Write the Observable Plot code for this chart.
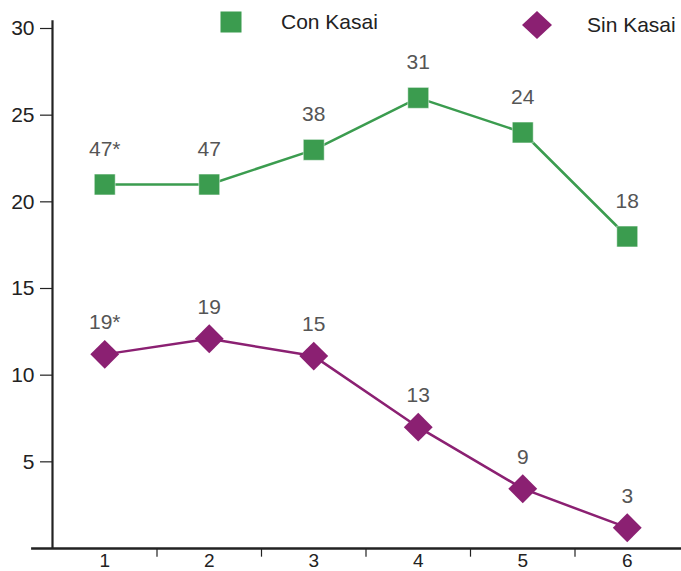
<!DOCTYPE html>
<html>
<head>
<meta charset="utf-8">
<script src="https://cdn.jsdelivr.net/npm/d3@7"></script>
<script src="https://cdn.jsdelivr.net/npm/@observablehq/plot@0.6"></script>
<style>
  html, body { margin: 0; padding: 0; background: #fff; }
  #wrap { position: relative; width: 681px; height: 571px; font-family: "Liberation Sans", Arial, sans-serif; }
  .leg { position: absolute; top: 10px; display: flex; align-items: center; font-size: 21px; color: #222; }
  .leg svg { display: block; }
</style>
</head>
<body>
<div id="wrap"></div>
<script>
const categories = [1, 2, 3, 4, 5, 6];
const conKasai = [21, 21, 23, 26, 24, 18];
const sinKasai = [11.2, 12.1, 11.1, 7.0, 3.45, 1.2];
const conLabels = ["47*", "47", "38", "31", "24", "18"];
const sinLabels = ["19*", "19", "15", "13", "9", "3"];
const yTicks = [5, 10, 15, 20, 25, 30];
const seriesNames = ["Con Kasai", "Sin Kasai"];

const green = "#3b9c4f";
const purple = "#8b2072";

const conData = categories.map((c, i) => ({x: c, y: conKasai[i], label: conLabels[i]}));
const sinData = categories.map((c, i) => ({x: c, y: sinKasai[i], label: sinLabels[i]}));
const xMin = categories[0] - 0.5, xMax = categories[categories.length - 1] + 0.5;
const mids = categories.slice(0, -1).map(c => c + 0.5);

const chart = Plot.plot({
  width: 681,
  height: 571,
  marginLeft: 52,
  marginRight: 2,
  marginTop: 28,
  marginBottom: 23,
  style: {fontFamily: '"Liberation Sans", Arial, sans-serif', background: "#fff", overflow: "visible"},
  x: {domain: [xMin, xMax]},
  y: {domain: [0, 30]},
  marks: [
    Plot.axisY({ticks: yTicks, tickSize: 12, tickPadding: 6, fontSize: 21, fill: "#222", stroke: "#222", strokeWidth: 1.2, label: null}),
    Plot.axisX({ticks: categories, tickFormat: d3.format("d"), tickSize: 0, tickPadding: 5, fontSize: 19, fill: "#222", label: null}),
    Plot.ruleX(mids, {y1: 0, y2: -0.5, stroke: "#222", strokeWidth: 1.2, clip: false}),
    Plot.ruleX([xMin], {y1: 0, y2: 30.45, stroke: "#222", strokeWidth: 2.2}),
    Plot.ruleY([0], {x1: xMin - 0.2, x2: xMax + 0.1, stroke: "#222", strokeWidth: 2.5}),
    Plot.line(conData, {x: "x", y: "y", stroke: green, strokeWidth: 2.5}),
    Plot.line(sinData, {x: "x", y: "y", stroke: purple, strokeWidth: 2.5}),
    Plot.dot(conData, {x: "x", y: "y", symbol: "square", r: 11.8, fill: green, stroke: "#fff", strokeWidth: 0.5}),
    Plot.dot(sinData, {x: "x", y: "y", symbol: "diamond2", r: 13, fill: purple, stroke: null}),
    Plot.text(conData, {x: "x", y: "y", text: "label", lineAnchor: "bottom", dy: -29, fontSize: 21, fill: "#555"}),
    Plot.text(sinData, {x: "x", y: "y", text: "label", lineAnchor: "bottom", dy: -25, fontSize: 21, fill: "#555"})
  ]
});

const wrap = document.getElementById("wrap");
wrap.appendChild(chart);

function legendItem(name, left, symbolSvg, gap) {
  const d = document.createElement("div");
  d.className = "leg";
  d.style.left = left + "px";
  d.innerHTML = symbolSvg + `<span style="margin-left:${gap}px">${name}</span>`;
  wrap.appendChild(d);
}
legendItem(seriesNames[0], 220,
  `<svg width="22" height="22"><rect x="0.5" y="0.5" width="21" height="21" fill="${green}"/></svg>`, 39);
legendItem(seriesNames[1], 521,
  `<svg width="32" height="30"><polygon points="16,1 31,15 16,29 1,15" fill="${purple}"/></svg>`, 34);
</script>
</body>
</html>
